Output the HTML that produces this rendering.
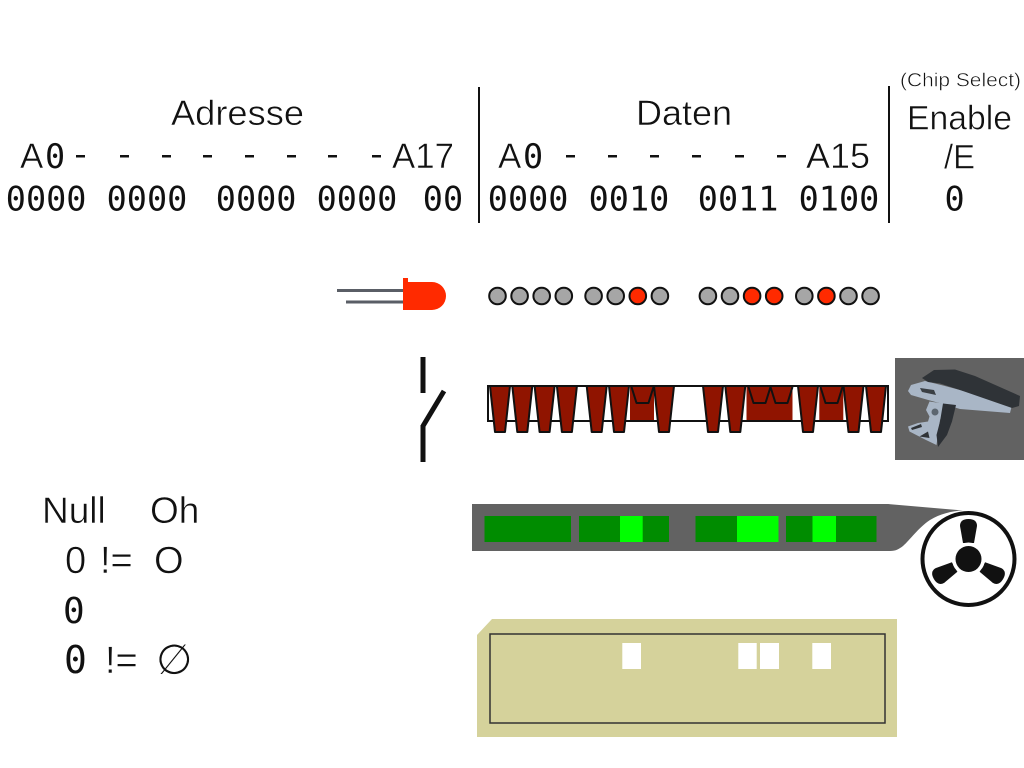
<!DOCTYPE html>
<html>
<head>
<meta charset="utf-8">
<style>
  html, body { margin:0; padding:0; background:#ffffff; }
  body { width:1024px; height:768px; overflow:hidden; }
  svg { display:block; }
  .s { font-family:"Liberation Sans", "DejaVu Sans", sans-serif; fill:#111; stroke:#ffffff; stroke-width:0.5; }
  .m { font-family:"DejaVu Sans Mono", "Liberation Mono", monospace; fill:#111; }
</style>
</head>
<body>
<svg width="1024" height="768" viewBox="0 0 1024 768" xmlns="http://www.w3.org/2000/svg">
  <rect x="0" y="0" width="1024" height="768" fill="#ffffff"/>

  <!-- ===== Header ===== -->
  <text class="s" x="171" y="125" font-size="35" textLength="133" lengthAdjust="spacingAndGlyphs">Adresse</text>
  <text class="s" x="636" y="125" font-size="35" textLength="96" lengthAdjust="spacingAndGlyphs">Daten</text>
  <text class="s" x="900" y="86.5" font-size="19" textLength="121" lengthAdjust="spacingAndGlyphs">(Chip Select)</text>
  <text class="s" x="907" y="129.5" font-size="34" textLength="105" lengthAdjust="spacingAndGlyphs">Enable</text>

  <!-- row 2 -->
  <text class="s" x="20" y="168" font-size="35">A</text>
  <text class="m" x="45" y="168" font-size="33.5">0</text>
  <g fill="#111">
    <rect x="76" y="155" width="9" height="2.5"/>
    <rect x="120" y="155" width="9" height="2.5"/>
    <rect x="162" y="155" width="9" height="2.5"/>
    <rect x="203" y="155" width="9" height="2.5"/>
    <rect x="245" y="155" width="9" height="2.5"/>
    <rect x="287" y="155" width="9" height="2.5"/>
    <rect x="328" y="155" width="9" height="2.5"/>
    <rect x="372" y="155" width="9" height="2.5"/>
  </g>
  <text class="s" x="392" y="168" font-size="35" textLength="62" lengthAdjust="spacingAndGlyphs">A17</text>

  <text class="s" x="498" y="168" font-size="35">A</text>
  <text class="m" x="523" y="168" font-size="33.5">0</text>
  <g fill="#111">
    <rect x="566" y="155" width="9" height="2.5"/>
    <rect x="608" y="155" width="9" height="2.5"/>
    <rect x="650" y="155" width="9" height="2.5"/>
    <rect x="692" y="155" width="9" height="2.5"/>
    <rect x="735" y="155" width="9" height="2.5"/>
    <rect x="777" y="155" width="9" height="2.5"/>
  </g>
  <text class="s" x="806" y="168" font-size="35" textLength="64" lengthAdjust="spacingAndGlyphs">A15</text>
  <text class="s" x="944" y="168.5" font-size="34" textLength="31" lengthAdjust="spacingAndGlyphs">/E</text>

  <!-- row 3 digits -->
  <text class="m" x="5.8" y="210.5" font-size="33.5" xml:space="preserve">0000 0000</text>
  <text class="m" x="215.8" y="210.5" font-size="33.5" xml:space="preserve">0000 0000</text>
  <text class="m" x="422.8" y="210.5" font-size="33.5">00</text>
  <text class="m" x="487.8" y="210.5" font-size="33.5" xml:space="preserve">0000 0010</text>
  <text class="m" x="697.8" y="210.5" font-size="33.5" xml:space="preserve">0011 0100</text>
  <text class="m" x="944.5" y="210.5" font-size="33.5">0</text>

  <!-- separators -->
  <rect x="478" y="87" width="2" height="136" fill="#111"/>
  <rect x="888" y="86" width="2" height="137" fill="#111"/>

  <!-- ===== LED row ===== -->
  <line x1="337" y1="290.5" x2="405" y2="290.5" stroke="#5a5e66" stroke-width="3"/>
  <line x1="346" y1="302" x2="405" y2="302" stroke="#5a5e66" stroke-width="3"/>
  <path d="M403,278 H408 V282 H432 A14,14 0 0 1 432,310 H403 Z" fill="#ff2a00"/>

  <g stroke="#111" stroke-width="2">
    <circle cx="497.5" cy="296" r="8.3" fill="#a6a6a6"/>
    <circle cx="519.6" cy="296" r="8.3" fill="#a6a6a6"/>
    <circle cx="541.7" cy="296" r="8.3" fill="#a6a6a6"/>
    <circle cx="563.8" cy="296" r="8.3" fill="#a6a6a6"/>
    <circle cx="593.6" cy="296" r="8.3" fill="#a6a6a6"/>
    <circle cx="615.7" cy="296" r="8.3" fill="#a6a6a6"/>
    <circle cx="637.8" cy="296" r="8.3" fill="#ff2a00"/>
    <circle cx="659.9" cy="296" r="8.3" fill="#a6a6a6"/>
    <circle cx="707.9" cy="296" r="8.3" fill="#a6a6a6"/>
    <circle cx="730" cy="296" r="8.3" fill="#a6a6a6"/>
    <circle cx="752.1" cy="296" r="8.3" fill="#ff2a00"/>
    <circle cx="774.2" cy="296" r="8.3" fill="#ff2a00"/>
    <circle cx="804.3" cy="296" r="8.3" fill="#a6a6a6"/>
    <circle cx="826.4" cy="296" r="8.3" fill="#ff2a00"/>
    <circle cx="848.5" cy="296" r="8.3" fill="#a6a6a6"/>
    <circle cx="870.6" cy="296" r="8.3" fill="#a6a6a6"/>
  </g>

  <!-- ===== Switch ===== -->
  <rect x="420.5" y="357" width="5" height="36" fill="#111"/>
  <line x1="444" y1="391" x2="423" y2="426" stroke="#111" stroke-width="5"/>
  <rect x="420.5" y="425" width="5" height="37" fill="#111"/>

  <!-- ===== Key / card ===== -->
  <rect x="488" y="386" width="400" height="35" fill="#ffffff" stroke="#111" stroke-width="2"/>
  <g fill="#901400">
    <rect x="630" y="387" width="24" height="33"/>
    <rect x="746.5" y="387" width="46" height="33"/>
    <rect x="819.3" y="387" width="24" height="33"/>
  </g>
  <g fill="#901400" stroke="#111" stroke-width="2" stroke-linejoin="round">
    <polyline points="631.5,387 636.5,403 648.5,403 653.5,387"/>
    <polyline points="748.5,387 753.5,403 765.5,403 770.5,387"/>
    <polyline points="770.5,387 775.5,403 787.5,403 792.5,387"/>
    <polyline points="820.5,387 825.5,403 837.5,403 842.5,387"/>
  </g>
  <g fill="#901400" stroke="#111" stroke-width="2" stroke-linejoin="round">
    <polygon points="490,386 510,386 505,432 495,432"/>
    <polygon points="512.3,386 532.3,386 527.3,432 517.3,432"/>
    <polygon points="534.6,386 554.6,386 549.6,432 539.6,432"/>
    <polygon points="556.9,386 576.9,386 571.9,432 561.9,432"/>

    <polygon points="586.7,386 606.7,386 601.7,432 591.7,432"/>
    <polygon points="609,386 629,386 624,432 614,432"/>
    <polygon points="654,386 674,386 669,432 659,432"/>

    <polygon points="703,386 723,386 718,432 708,432"/>
    <polygon points="725.3,386 745.3,386 740.3,432 730.3,432"/>

    <polygon points="798,386 818,386 813,432 803,432"/>
    <polygon points="843.5,386 863.5,386 858.5,432 848.5,432"/>
    <polygon points="866,386 886,386 881,432 871,432"/>
  </g>

  <!-- ===== 3D model thumbnail ===== -->
  <rect x="895" y="358" width="129" height="102" fill="#626262"/>
  <g stroke="none">
    <polygon points="908,391 911,385 925,381 943,385.5 960,390 1012,405 1010,413 960,409 943,404 930,400.5 911,395" fill="#a9b6c6"/>
    <polygon points="922,378 934,370 955,369.5 975,376 1020,396 1019,406 1012,408 960,390 940,383.5 928,382" fill="#2f3337"/>
    <polygon points="920,388 934,390 936,395 922,392" fill="#3a3f44"/>
    <polygon points="929.5,401.5 943,403.5 945,410 940,420 936.5,445 926,440 909.5,431.5 908,426.5 918,423 928,421.5 929.5,416.5 926,410" fill="#a9b6c6"/>
    <polygon points="943,403.5 956,405 952,421.5 947,435 938,447 936.5,435 940,421.5" fill="#2c3035"/>
    <polygon points="919.5,436.5 928,431.5 929.5,438" fill="#2f3337"/>
    <polygon points="911,428 921,424 922,427 912,430" fill="#2f3337"/>
    <circle cx="935" cy="412" r="3.5" fill="#5c6670"/>
  </g>

  <!-- ===== Green bar & fan ===== -->
  <path d="M472,504 H888 L963,510.5 C951,511 940,514 930,520 C918,528 910,540 903,546 C899,549 896,551 890,551 H472 Z" fill="#626262"/>
  <g>
    <rect x="484.5" y="516" width="86.5" height="26" fill="#008c00"/>
    <rect x="579" y="516" width="90" height="26" fill="#008c00"/>
    <rect x="620" y="516" width="22.7" height="26" fill="#00ff00"/>
    <rect x="695.5" y="516" width="83" height="26" fill="#008c00"/>
    <rect x="737" y="516" width="41.5" height="26" fill="#00ff00"/>
    <rect x="786" y="516" width="90.5" height="26" fill="#008c00"/>
    <rect x="812.5" y="516" width="23.5" height="26" fill="#00ff00"/>
  </g>
  <circle cx="968.5" cy="559" r="46" fill="#ffffff" stroke="#111" stroke-width="4"/>
  <g transform="translate(968.5,559)" fill="#111">
    <path d="M-5.5,-16 L-8.5,-33 Q-8.5,-40 0,-40 Q8.5,-40 8.5,-33 L5.5,-16 Z"/>
    <path d="M-5.5,-16 L-8.5,-33 Q-8.5,-40 0,-40 Q8.5,-40 8.5,-33 L5.5,-16 Z" transform="rotate(120)"/>
    <path d="M-5.5,-16 L-8.5,-33 Q-8.5,-40 0,-40 Q8.5,-40 8.5,-33 L5.5,-16 Z" transform="rotate(240)"/>
    <circle cx="0" cy="0" r="16.5" fill="#ffffff"/>
    <circle cx="0" cy="0" r="13" fill="#111"/>
  </g>

  <!-- ===== Yellow panel ===== -->
  <path d="M492,619 H897 V737 H477 V635 Z" fill="#d5d29b"/>
  <rect x="490" y="634" width="395" height="89" fill="none" stroke="#333" stroke-width="1.5"/>
  <g fill="#ffffff">
    <rect x="622.3" y="643" width="18.7" height="26"/>
    <rect x="738.3" y="643" width="18.4" height="26"/>
    <rect x="760" y="643" width="19" height="26"/>
    <rect x="812.3" y="643" width="18.7" height="26"/>
  </g>

  <!-- ===== Left text ===== -->
  <text class="s" x="42" y="523" font-size="37">Null</text>
  <text class="s" x="150" y="523" font-size="37">Oh</text>

  <text class="s" x="65" y="573" font-size="38">0</text>
  <text class="s" x="100" y="573" font-size="38">!=</text>
  <text class="s" x="154" y="573" font-size="38">O</text>

  <text class="m" x="63" y="623" font-size="36">0</text>

  <text class="m" x="64" y="673" font-size="38">0</text>
  <text class="s" x="105" y="673" font-size="38">!=</text>
  <text class="s" x="156" y="674" font-size="42">∅</text>
</svg>
</body>
</html>
